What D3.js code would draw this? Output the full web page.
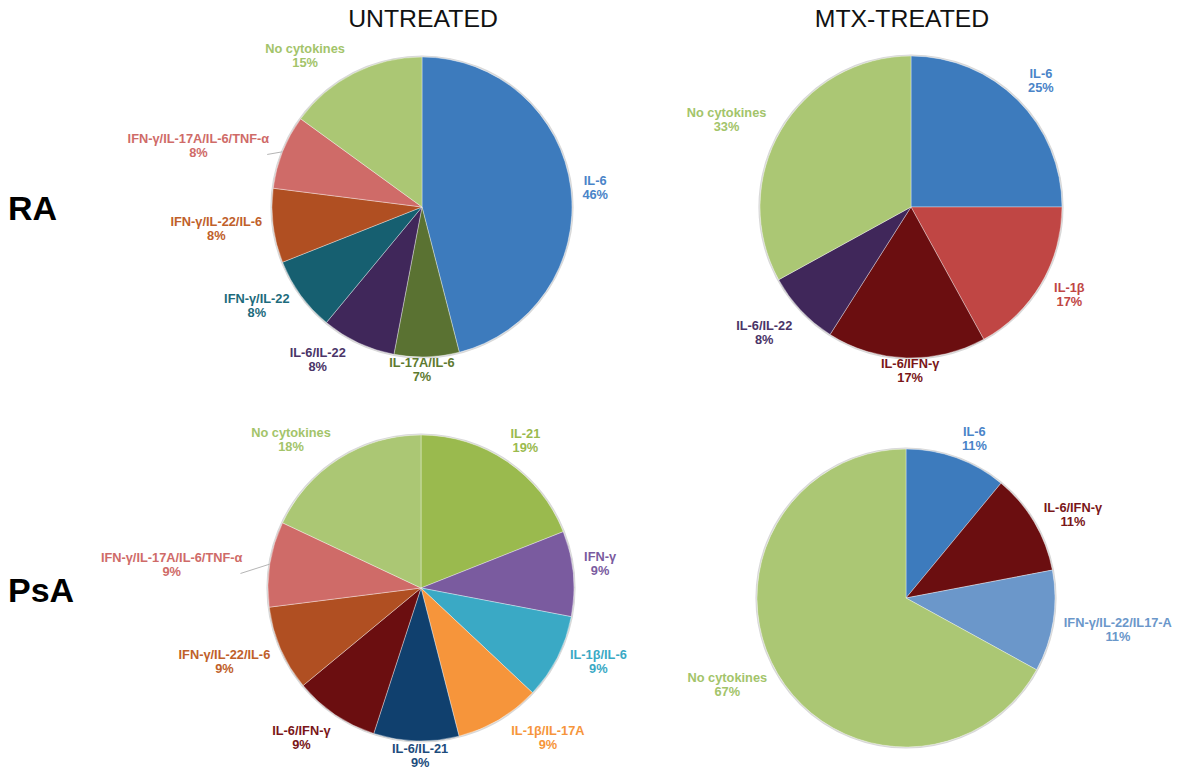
<!DOCTYPE html>
<html>
<head>
<meta charset="utf-8">
<script src="https://cdn.jsdelivr.net/npm/d3@7"></script>
<style>
  body { margin: 0; background: #fff; }
  svg { display: block; font-family: "Liberation Sans", Arial, sans-serif; }
  .slice-label { font-weight: bold; font-size: 12.8px; }
</style>
</head>
<body>
<svg id="chart" width="1188" height="769"></svg>
<script>
// ---- data (percent of cells) ----
const raUntreatedCats = ['IL-6', 'IL-17A/IL-6', 'IL-6/IL-22', 'IFN-γ/IL-22', 'IFN-γ/IL-22/IL-6', 'IFN-γ/IL-17A/IL-6/TNF-α', 'No cytokines'];
const raUntreatedVals = [46, 7, 8, 8, 8, 8, 15];

const raMtxCats = ['IL-6', 'IL-1β', 'IL-6/IFN-γ', 'IL-6/IL-22', 'No cytokines'];
const raMtxVals = [25, 17, 17, 8, 33];

const psaUntreatedCats = ['IL-21', 'IFN-γ', 'IL-1β/IL-6', 'IL-1β/IL-17A', 'IL-6/IL-21', 'IL-6/IFN-γ', 'IFN-γ/IL-22/IL-6', 'IFN-γ/IL-17A/IL-6/TNF-α', 'No cytokines'];
const psaUntreatedVals = [19, 9, 9, 9, 9, 9, 9, 9, 18];

const psaMtxCats = ['IL-6', 'IL-6/IFN-γ', 'IFN-γ/IL-22/IL17-A', 'No cytokines'];
const psaMtxVals = [11, 11, 11, 67];

const columnTitles = ['UNTREATED', 'MTX-TREATED'];
const rowTitles = ['RA', 'PsA'];

// ---- styling ----
const colorOf = {
  'IL-6': '#3d7bbd',
  'No cytokines': '#abc774',
  'IFN-γ/IL-17A/IL-6/TNF-α': '#cf6b68',
  'IFN-γ/IL-22/IL-6': '#b04f22',
  'IFN-γ/IL-22': '#165f70',
  'IL-6/IL-22': '#40275a',
  'IL-17A/IL-6': '#5a7232',
  'IL-1β': '#c04644',
  'IL-6/IFN-γ': '#6b0e10',
  'IL-21': '#9aba4e',
  'IFN-γ': '#7a5b9f',
  'IL-1β/IL-6': '#3aa9c5',
  'IL-1β/IL-17A': '#f6953b',
  'IL-6/IL-21': '#10406e',
  'IFN-γ/IL-22/IL17-A': '#6b97ca'
};
const textColorOf = {
  'IL-6': '#4a84c8',
  'No cytokines': '#a3c46a',
  'IFN-γ/IL-22/IL-6': '#c0602a',
  'IFN-γ/IL-22': '#1d6b7c',
  'IL-6/IL-22': '#4a3468',
  'IL-17A/IL-6': '#5e7a30',
  'IL-6/IFN-γ': '#7a1618',
  'IL-6/IL-21': '#1d4c7c'
};

const panels = [
  { cats: raUntreatedCats, vals: raUntreatedVals, cx: 422, cy: 207, r: 150 },
  { cats: raMtxCats, vals: raMtxVals, cx: 911, cy: 207, r: 151 },
  { cats: psaUntreatedCats, vals: psaUntreatedVals, cx: 421, cy: 588, r: 153 },
  { cats: psaMtxCats, vals: psaMtxVals, cx: 906, cy: 598, r: 149 }
];

// hand tweaks of the label boxes (like dragging them in the spreadsheet)
const labelNudges = [
  { 'No cytokines': [-27, 3], 'IFN-γ/IL-17A/IL-6/TNF-α': [-8, 6], 'IFN-γ/IL-22/IL-6': [0, 3],
    'IFN-γ/IL-22': [-9, 1], 'IL-6/IL-22': [-25, 3], 'IL-17A/IL-6': [-6, -1], 'IL-6': [0, 6] },
  { 'IL-6': [7, -1], 'No cytokines': [-11, 4], 'IL-1β': [6, 3], 'IL-6/IFN-γ': [5, -1], 'IL-6/IL-22': [-9, 11] },
  { 'No cytokines': [-22, 1], 'IL-21': [5, -1], 'IFN-γ': [-1, -4], 'IL-1β/IL-6': [6, -3],
    'IL-1β/IL-17A': [26, 4], 'IL-6/IL-21': [5, 1], 'IL-6/IFN-γ': [-12, 10],
    'IFN-γ/IL-22/IL-6': [-4, 7], 'IFN-γ/IL-17A/IL-6/TNF-α': [-17, 8] },
  { 'IL-6': [11, 2], 'IL-6/IFN-γ': [4, 7], 'IFN-γ/IL-22/IL17-A': [0, 8], 'No cytokines': [-7, 3] }
];
const leaderCats = ['IFN-γ/IL-17A/IL-6/TNF-α'];

const lineGap = 14;
const svg = d3.select('#chart');

// column and row headings
svg.selectAll('.col-title')
  .data(columnTitles)
  .enter().append('text')
  .attr('class', 'col-title')
  .attr('x', (d, i) => [423, 902][i])
  .attr('y', 27)
  .attr('text-anchor', 'middle')
  .attr('font-size', 24.8)
  .attr('fill', '#111')
  .text(d => d);

svg.selectAll('.row-title')
  .data(rowTitles)
  .enter().append('text')
  .attr('class', 'row-title')
  .attr('x', 8)
  .attr('y', (d, i) => [220, 602][i])
  .attr('font-size', 34)
  .attr('font-weight', 'bold')
  .attr('fill', '#000')
  .text(d => d);

const pie = d3.pie().sort(null).value(d => d.value);

panels.forEach((p, pi) => {
  const rows = p.cats.map((c, i) => ({ cat: c, value: p.vals[i] }));
  const arcs = pie(rows);
  const arc = d3.arc().innerRadius(0).outerRadius(p.r);
  const total = d3.sum(p.vals);
  const nudges = labelNudges[pi];

  const g = svg.append('g').attr('transform', `translate(${p.cx},${p.cy})`);

  // soft outline
  g.append('circle')
    .attr('r', p.r + 0.8)
    .attr('fill', 'none')
    .attr('stroke', '#d8d8d8')
    .attr('stroke-width', 1.6);

  g.selectAll('path.slice')
    .data(arcs)
    .enter().append('path')
    .attr('class', 'slice')
    .attr('d', arc)
    .attr('fill', d => colorOf[d.data.cat])
    .attr('stroke', 'rgba(255,255,255,0.45)')
    .attr('stroke-width', 0.8);

  // outside-end labels
  arcs.forEach(d => {
    const mid = (d.startAngle + d.endAngle) / 2;
    const ux = Math.sin(mid), uy = -Math.cos(mid);
    const t = g.append('text')
      .attr('class', 'slice-label')
      .attr('text-anchor', 'middle')
      .attr('fill', textColorOf[d.data.cat] || colorOf[d.data.cat]);
    t.append('tspan').attr('x', 0).attr('y', 0).text(d.data.cat);
    t.append('tspan').attr('x', 0).attr('y', lineGap)
      .text(Math.round(d.data.value / total * 100) + '%');
    const w = t.node().getBBox().width;
    const capTop = -9;
    const h = lineGap - capTop;
    const gap = 5.5 + 6 * Math.abs(ux);
    const [nx, ny] = nudges[d.data.cat] || [0, 0];
    const bx = (p.r + gap) * ux + ux * w / 2 + nx;
    const by = (p.r + gap) * uy - 3.5 + uy * h / 2 + ny;
    const baseY = by - h / 2 - capTop;
    t.attr('transform', `translate(${bx},${baseY})`);

    if (leaderCats.includes(d.data.cat) && (nx !== 0 || ny !== 0)) {
      g.insert('line', 'text')
        .attr('x1', p.r * ux)
        .attr('y1', p.r * uy)
        .attr('x2', bx + w / 2 - 2)
        .attr('y2', baseY + lineGap - 3)
        .attr('stroke', '#b5b5b5')
        .attr('stroke-width', 1);
    }
  });
});
</script>
</body>
</html>
